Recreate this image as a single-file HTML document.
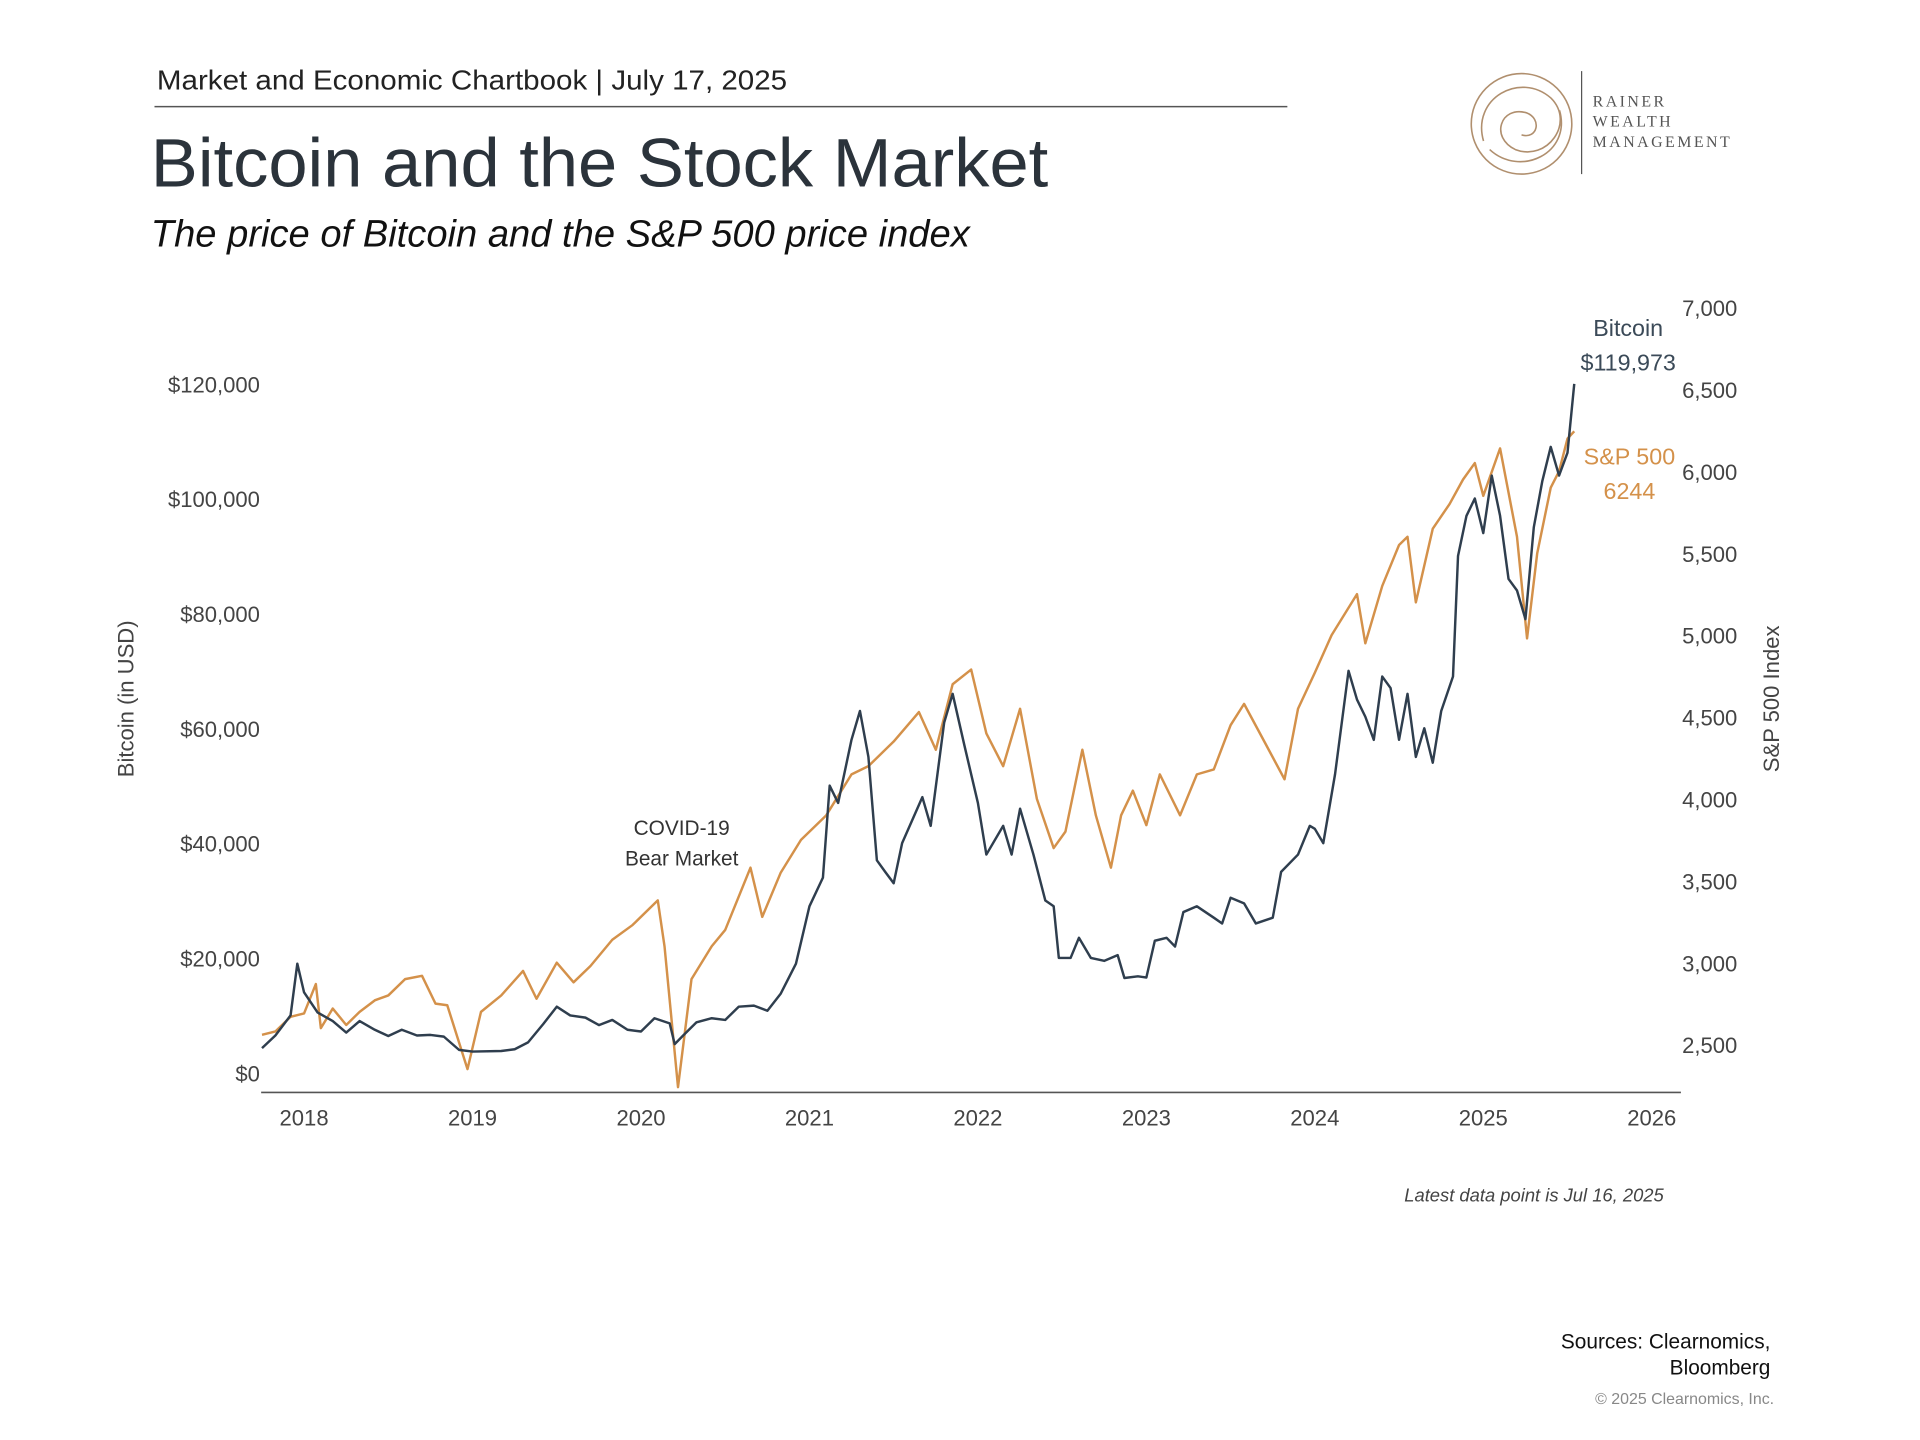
<!DOCTYPE html>
<html><head><meta charset="utf-8"><style>
html,body{margin:0;padding:0;background:#fff;}
svg{display:block;font-family:"Liberation Sans",sans-serif;}
</style></head><body>
<svg id="chart" width="1920" height="1440" viewBox="0 0 1566 1174.5" xmlns="http://www.w3.org/2000/svg">
<rect width="1566" height="1174.5" fill="#fff"/>
<text x="128" y="73" font-size="23" fill="#222" textLength="514" lengthAdjust="spacingAndGlyphs">Market and Economic Chartbook | July 17, 2025</text>
<line x1="126" y1="87" x2="1050" y2="87" stroke="#555" stroke-width="1.2"/>
<text x="123" y="152" font-size="56" fill="#2b333b" textLength="732" lengthAdjust="spacingAndGlyphs">Bitcoin and the Stock Market</text>
<text x="123" y="201" font-size="31" font-style="italic" fill="#111" textLength="668" lengthAdjust="spacingAndGlyphs">The price of Bitcoin and the S&amp;P 500 price index</text>
<g fill="none" stroke="#b08f6e" stroke-width="1.3">
<circle cx="1241" cy="101" r="41"/>
<path d="M1210,115 C1200,80 1240,58 1265,80 C1285,100 1262,132 1236,122 C1215,112 1224,86 1245,92 C1258,97 1254,114 1241,110"/>
<path d="M1272,90 C1282,125 1240,145 1215,122"/>
<line x1="1290" y1="58" x2="1290" y2="142" stroke="#555" stroke-width="1"/>
</g>
<g font-family="Liberation Serif, serif" font-size="13" fill="#555" letter-spacing="2">
<text x="1299" y="87">RAINER</text><text x="1299" y="103">WEALTH</text><text x="1299" y="120">MANAGEMENT</text>
</g>
<g id="axes"></g>
<g id="series"></g>
<text transform="translate(109,570) rotate(-90)" text-anchor="middle" font-size="18" fill="#444">Bitcoin (in USD)</text>
<text transform="translate(1451,570) rotate(-90)" text-anchor="middle" font-size="18" fill="#444">S&amp;P 500 Index</text>
<text x="1328" y="274" text-anchor="middle" font-size="19" fill="#3b4a58">Bitcoin</text>
<text x="1328" y="302" text-anchor="middle" font-size="19" fill="#3b4a58">$119,973</text>
<text x="1329" y="379" text-anchor="middle" font-size="19" fill="#d4914a">S&amp;P 500</text>
<text x="1329" y="407" text-anchor="middle" font-size="19" fill="#d4914a">6244</text>
<text x="556" y="681" text-anchor="middle" font-size="17" fill="#333">COVID-19</text>
<text x="556" y="706" text-anchor="middle" font-size="17" fill="#333">Bear Market</text>
<text x="1357" y="980" text-anchor="end" font-size="15" font-style="italic" fill="#444">Latest data point is Jul 16, 2025</text>
<text x="1444" y="1100" text-anchor="end" font-size="17" fill="#111">Sources: Clearnomics,</text>
<text x="1444" y="1121" text-anchor="end" font-size="17" fill="#111">Bloomberg</text>
<text x="1447" y="1145" text-anchor="end" font-size="13" fill="#888">© 2025 Clearnomics, Inc.</text>
</svg>
<script>
const yearTicks = [2018,2019,2020,2021,2022,2023,2024,2025,2026];
const btcTicks = [0,20000,40000,60000,80000,100000,120000];
const btcTickLabels = ["$0","$20,000","$40,000","$60,000","$80,000","$100,000","$120,000"];
const spTicks = [2500,3000,3500,4000,4500,5000,5500,6000,6500,7000];
const spTickLabels = ["2,500","3,000","3,500","4,000","4,500","5,000","5,500","6,000","6,500","7,000"];
const btcDates = [2017.75,2017.83,2017.92,2017.96,2018.0,2018.08,2018.17,2018.25,2018.33,2018.42,2018.5,2018.58,2018.67,2018.75,2018.83,2018.92,2019.0,2019.17,2019.25,2019.33,2019.42,2019.5,2019.58,2019.67,2019.75,2019.83,2019.92,2020.0,2020.08,2020.17,2020.2,2020.25,2020.33,2020.42,2020.5,2020.58,2020.67,2020.75,2020.83,2020.92,2021.0,2021.08,2021.12,2021.17,2021.25,2021.3,2021.35,2021.4,2021.45,2021.5,2021.55,2021.67,2021.72,2021.8,2021.85,2021.92,2022.0,2022.05,2022.15,2022.2,2022.25,2022.33,2022.4,2022.45,2022.48,2022.55,2022.6,2022.67,2022.75,2022.83,2022.87,2022.95,2023.0,2023.05,2023.12,2023.17,2023.22,2023.3,2023.4,2023.45,2023.5,2023.58,2023.65,2023.75,2023.8,2023.9,2023.97,2024.0,2024.05,2024.12,2024.2,2024.25,2024.3,2024.35,2024.4,2024.45,2024.5,2024.55,2024.6,2024.65,2024.7,2024.75,2024.82,2024.85,2024.9,2024.95,2025.0,2025.05,2025.1,2025.15,2025.2,2025.25,2025.3,2025.35,2025.4,2025.45,2025.5,2025.54];
const btcValues = [4300,6500,10000,19000,14000,10500,9000,7000,9000,7500,6400,7500,6500,6600,6300,4000,3700,3800,4100,5300,8500,11500,10000,9600,8300,9200,7500,7200,9500,8600,5000,6500,8800,9500,9200,11500,11700,10800,13800,19000,29000,34000,50000,47000,58000,63000,55000,37000,35000,33000,40000,48000,43000,61000,66000,57000,47000,38000,43000,38000,46000,38000,30000,29000,20000,20000,23500,20000,19500,20500,16500,16800,16600,23000,23500,22000,28000,29000,27000,26000,30500,29500,26000,27000,35000,38000,43000,42500,40000,52000,70000,65000,62000,58000,69000,67000,58000,66000,55000,60000,54000,63000,69000,90000,97000,100000,94000,104000,97000,86000,84000,79000,95000,103000,109000,104000,108000,119973];
const spDates = [2017.75,2017.83,2017.92,2018.0,2018.07,2018.1,2018.17,2018.25,2018.33,2018.42,2018.5,2018.6,2018.7,2018.78,2018.85,2018.97,2019.05,2019.17,2019.3,2019.38,2019.5,2019.6,2019.7,2019.83,2019.95,2020.1,2020.14,2020.22,2020.3,2020.42,2020.5,2020.65,2020.72,2020.83,2020.95,2021.1,2021.25,2021.35,2021.5,2021.65,2021.75,2021.85,2021.96,2022.05,2022.15,2022.25,2022.35,2022.45,2022.52,2022.62,2022.7,2022.79,2022.85,2022.92,2023.0,2023.08,2023.2,2023.3,2023.4,2023.5,2023.58,2023.7,2023.82,2023.9,2024.0,2024.1,2024.25,2024.3,2024.4,2024.5,2024.55,2024.6,2024.7,2024.8,2024.88,2024.95,2025.0,2025.1,2025.2,2025.26,2025.32,2025.4,2025.45,2025.5,2025.54];
const spValues = [2560,2580,2670,2690,2870,2600,2720,2620,2700,2770,2800,2900,2920,2750,2740,2350,2700,2800,2950,2780,3000,2880,2980,3140,3230,3380,3100,2240,2900,3100,3200,3580,3280,3550,3750,3900,4150,4200,4350,4530,4300,4700,4790,4400,4200,4550,4000,3700,3800,4300,3900,3580,3900,4050,3840,4150,3900,4150,4180,4450,4580,4350,4120,4550,4770,5000,5250,4950,5300,5550,5600,5200,5650,5800,5950,6050,5850,6140,5600,4980,5500,5900,6000,6200,6244];

const NS = "http://www.w3.org/2000/svg";
const xScale = d => 248 + (d - 2018) * 137.4;
const yBtc = v => 875 - v / 20000 * 93.67;
const ySp = v => 852 - (v - 2500) / 500 * 66.8;
const axes = document.getElementById('axes');
const series = document.getElementById('series');
function mk(tag, attrs, parent, txt) {
  const e = document.createElementNS(NS, tag);
  for (const k in attrs) e.setAttribute(k, attrs[k]);
  if (txt !== undefined) e.textContent = txt;
  parent.appendChild(e);
  return e;
}
const base = mk('line', {x1:213, y1:891, x2:1371, y2:891, stroke:'#555', 'stroke-width':1.3}, axes);


yearTicks.forEach(y => {
  const t = mk('text', {x:xScale(y), y:918, 'text-anchor':'middle', 'font-size':18, fill:'#444'}, axes, String(y));
  
  
});
btcTicks.forEach((v, i) => {
  const t = mk('text', {x:212, y:yBtc(v) + 7, 'text-anchor':'end', 'font-size':18, fill:'#444'}, axes, btcTickLabels[i]);
  
  
});
spTicks.forEach((v, i) => {
  const t = mk('text', {x:1372, y:ySp(v) + 7, 'font-size':18, fill:'#444'}, axes, spTickLabels[i]);
  
  
});
const spPath = mk('path', {d: spDates.map((d, i) => (i ? 'L' : 'M') + xScale(d).toFixed(1) + ',' + ySp(spValues[i]).toFixed(1)).join(''), fill:'none', stroke:'#d4914a', 'stroke-width':2, 'stroke-linejoin':'round'}, series);


const btcPath = mk('path', {d: btcDates.map((d, i) => (i ? 'L' : 'M') + xScale(d).toFixed(1) + ',' + yBtc(btcValues[i]).toFixed(1)).join(''), fill:'none', stroke:'#2f3e4e', 'stroke-width':2, 'stroke-linejoin':'round'}, series);


</script>
</body></html>
